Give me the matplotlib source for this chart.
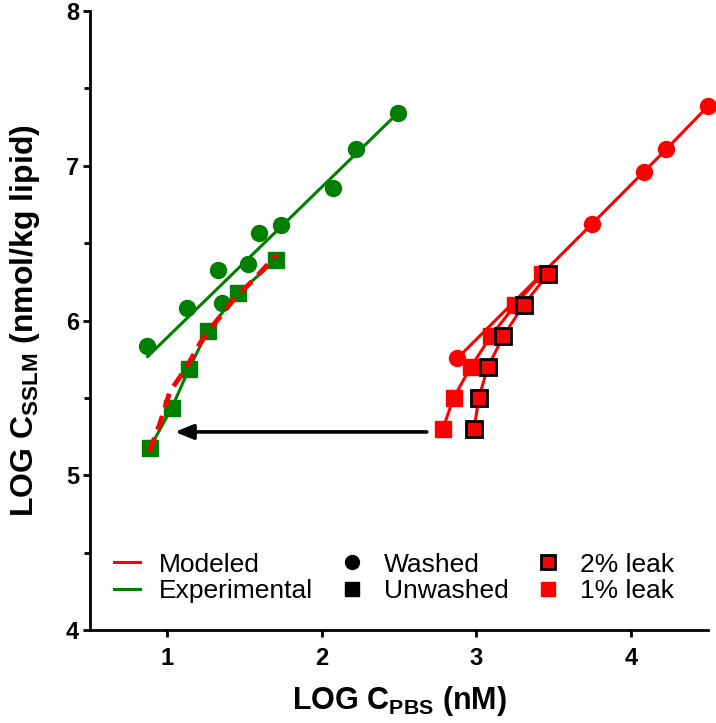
import matplotlib
matplotlib.use("Agg")
from matplotlib import pyplot as plt
from matplotlib.lines import Line2D

plt.rcParams["font.family"] = ["Liberation Sans", "DejaVu Sans"]
plt.rcParams["mathtext.default"] = "regular"

GREEN = "#007f00"
RED = "#ff0000"

# experimental, washed (green circles)
exp_washed_x = [0.867, 1.130, 1.330, 1.352, 1.521, 1.594, 1.738, 2.075, 2.222, 2.494]
exp_washed_y = [5.838, 6.083, 6.327, 6.116, 6.366, 6.568, 6.618, 6.855, 7.109, 7.342]
exp_washed_fit_x = [0.873, 2.494]
exp_washed_fit_y = [5.767, 7.342]

# experimental, unwashed (green squares)
exp_unwashed_x = [0.888, 1.028, 1.142, 1.262, 1.460, 1.704]
exp_unwashed_y = [5.178, 5.433, 5.689, 5.935, 6.177, 6.392]

# modeled curve for unwashed (red dashed)
model_unwashed_x = [0.884, 0.953, 1.017, 1.126, 1.212, 1.298, 1.428, 1.557, 1.708]
model_unwashed_y = [5.153, 5.336, 5.540, 5.700, 5.853, 5.970, 6.133, 6.262, 6.424]

# modeled, washed (red circles)
model_washed_x = [2.878, 3.749, 4.083, 4.230, 4.498]
model_washed_y = [5.756, 6.624, 6.959, 7.107, 7.383]

# modeled, unwashed with leak
leak_y = [5.3, 5.5, 5.7, 5.9, 6.1, 6.3]
leak1_x = [2.784, 2.853, 2.965, 3.095, 3.252, 3.425]
leak2_x = [2.986, 3.017, 3.075, 3.176, 3.306, 3.464]

arrow_from = (2.68, 5.28)
arrow_to = (1.05, 5.28)


def main():
    fig = plt.figure(figsize=(7.16, 7.23), dpi=100)
    ax = fig.add_axes([90 / 716, 93 / 723, 618 / 716, 619 / 723])

    # green experimental
    ax.plot(exp_washed_fit_x, exp_washed_fit_y, color=GREEN, lw=2.2, zorder=2)
    ax.plot(exp_washed_x, exp_washed_y, "o", color=GREEN, ms=11.5, zorder=3)
    ax.plot(exp_unwashed_x, exp_unwashed_y, "-", color=GREEN, lw=2.2, zorder=2)
    ax.plot(exp_unwashed_x, exp_unwashed_y, "s", color=GREEN, ms=11.5, zorder=3)
    ax.plot(model_unwashed_x, model_unwashed_y, "--", color=RED, lw=3.5,
            dashes=(3, 1.8), zorder=4)

    # red modeled
    ax.plot(model_washed_x, model_washed_y, "-o", color=RED, lw=2.2, ms=11.5,
            zorder=3, clip_on=False)
    ax.plot(leak1_x, leak_y, "-s", color=RED, lw=2.2, ms=11.5, zorder=3)
    ax.plot(leak2_x, leak_y, "-", color=RED, lw=2.2, zorder=3)
    ax.plot(leak2_x, leak_y, "s", color=RED, mec="black", mew=2, ms=11.5, zorder=4)

    ax.annotate("", xy=arrow_to, xytext=arrow_from,
                arrowprops=dict(arrowstyle="-|>,head_length=1.1,head_width=0.45",
                                color="black", lw=2.6, shrinkA=0, shrinkB=0))

    ax.set_xlim(0.5, 4.5)
    ax.set_ylim(4, 8)
    ax.set_xticks([1, 2, 3, 4])
    ax.set_yticks([4, 5, 6, 7, 8])
    ax.set_yticks([4.5, 5.5, 6.5, 7.5], minor=True)
    for s in ["top", "right"]:
        ax.spines[s].set_visible(False)
    for s in ["left", "bottom"]:
        ax.spines[s].set_linewidth(2)
    ax.tick_params(axis="both", which="major", width=2, length=5, labelsize=17)
    ax.tick_params(axis="x", which="major", pad=7)
    ax.tick_params(axis="y", which="major", pad=3)
    ax.tick_params(axis="y", which="minor", width=2, length=4)
    for lbl in ax.get_xticklabels() + ax.get_yticklabels():
        lbl.set_fontweight("bold")

    ax.set_xlabel("LOG C$_{PBS}$ (nM)", fontsize=22, fontweight="bold", labelpad=10)
    ax.set_ylabel("LOG C$_{SSLM}$ (nmol/kg lipid)", fontsize=23,
                  fontweight="bold", labelpad=17)

    handles = [
        Line2D([], [], color=RED, lw=2.2),
        Line2D([], [], color=GREEN, lw=2.2),
        Line2D([], [], ls="", marker="o", color="black", ms=10),
        Line2D([], [], ls="", marker="s", color="black", ms=10),
        Line2D([], [], ls="", marker="s", color=RED, mec="black", mew=2, ms=10),
        Line2D([], [], ls="", marker="s", color=RED, ms=10),
    ]
    labels = ["Modeled", "Experimental", "Washed", "Unwashed", "2% leak", "1% leak"]
    ax.legend(handles, labels, ncol=3, loc="lower left",
              bbox_to_anchor=(0.0, 0.005), frameon=False, fontsize=19,
              handlelength=1.0, handletextpad=0.7, columnspacing=1.0,
              labelspacing=0.1)

    fig.savefig("out.png", dpi=100)


if __name__ == "__main__":
    main()
